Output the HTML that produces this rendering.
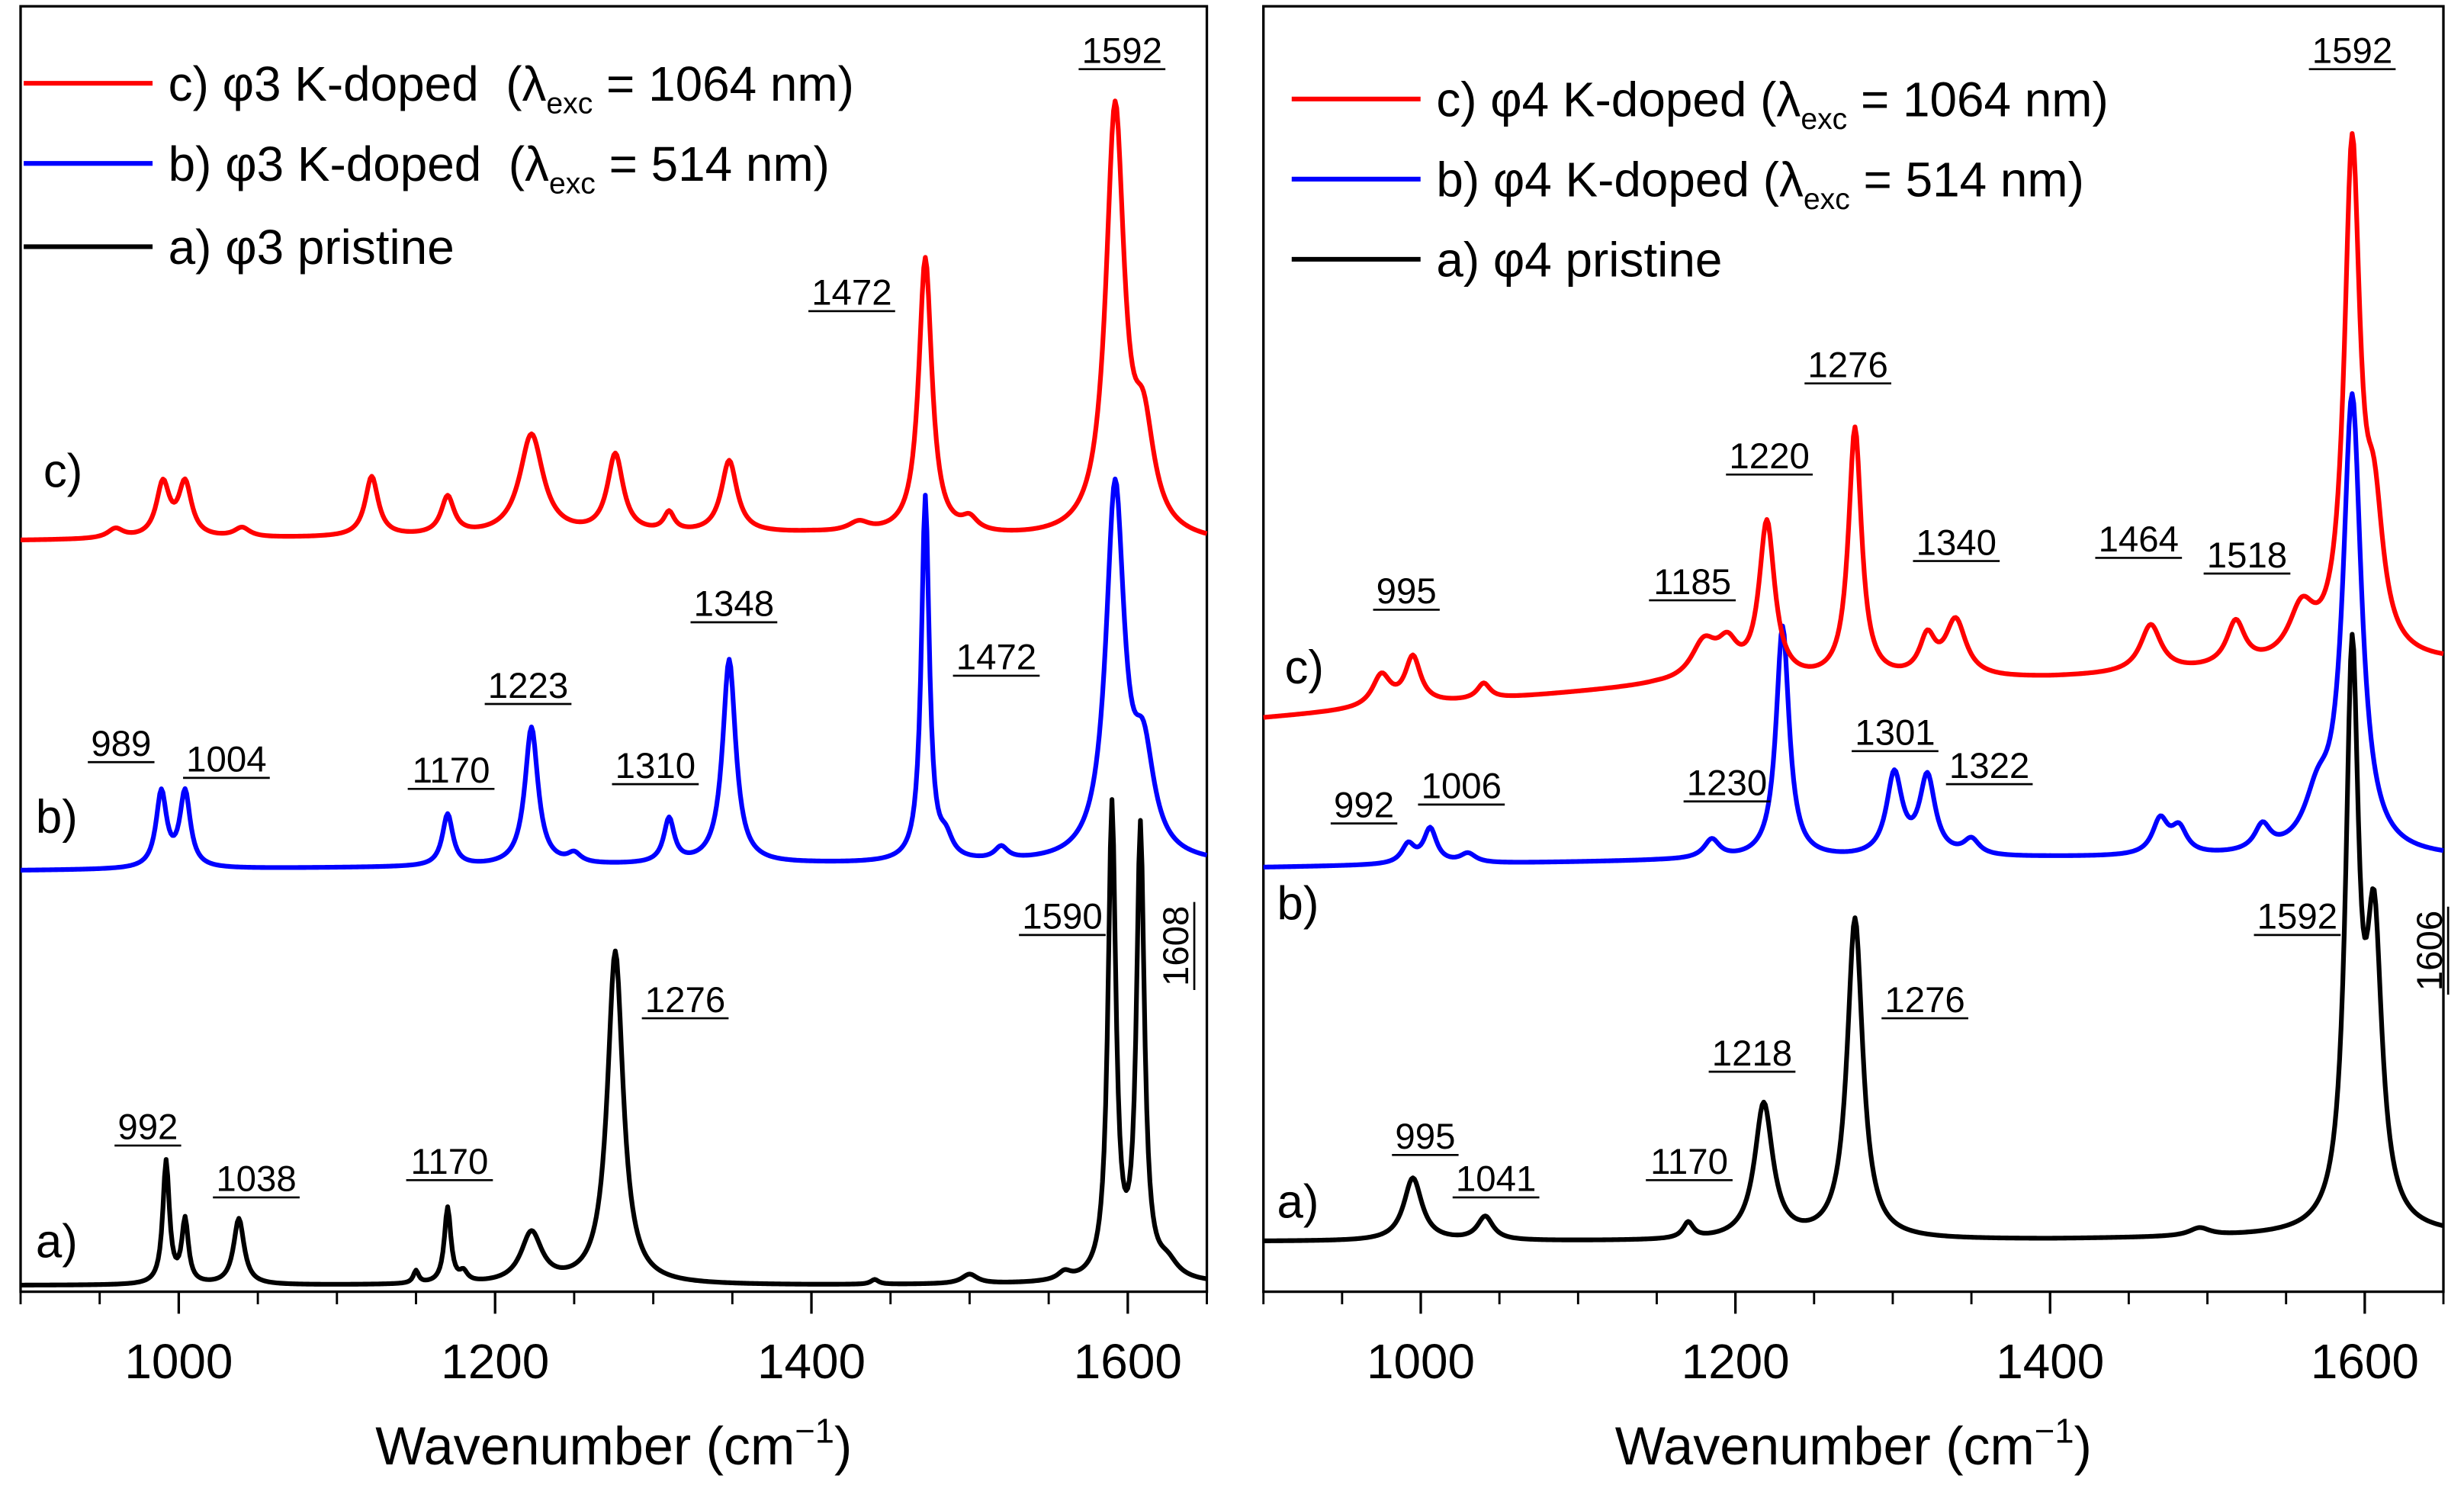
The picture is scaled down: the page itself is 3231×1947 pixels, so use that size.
<!DOCTYPE html>
<html><head><meta charset="utf-8"><style>
html,body{margin:0;padding:0;background:#fff}
svg{display:block}
text{font-family:"Liberation Sans",Arial,sans-serif}
</style></head><body>
<svg id="chart" width="3231" height="1947" viewBox="0 0 1568 945" xmlns="http://www.w3.org/2000/svg">
<g id="p0"></g>
<g id="p1"></g>
</svg>
<script>
// ---------- data ----------
const xTicksMajor = [1000, 1200, 1400, 1600];
const xTicksMinor = [900, 950, 1050, 1100, 1150, 1250, 1300, 1350, 1450, 1500, 1550, 1650];
// Left panel (phi3) peaks: position, height, half-width
const l_a_pos = [992, 1004, 1038, 1150, 1170, 1180, 1223, 1276, 1440, 1500, 1560, 1590, 1608, 1625];
const l_a_h   = [78, 40, 42, 8, 48, 6, 32, 212, 3, 6, 5, 300, 285, 10];
const l_a_w   = [2.5, 2.5, 4, 2, 2.5, 3, 8, 6, 3, 6, 5, 3, 3, 8];
const l_a_base = [4, 4, 4, 5];
const l_b_pos = [989, 1004, 1170, 1223, 1250, 1310, 1348, 1472, 1485, 1520, 1592, 1610];
const l_b_h   = [48, 48, 33, 88, 6, 28, 130, 232, 12, 8, 235, 60];
const l_b_w   = [4, 4, 4, 5, 5, 4, 5, 3, 5, 5, 7, 8];
const l_b_base = [268, 270, 272, 272];
const l_c_pos = [960, 990, 1004, 1040, 1122, 1170, 1223, 1276, 1310, 1348, 1430, 1472, 1500, 1592, 1610];
const l_c_h   = [6, 34, 34, 6, 38, 24, 64, 50, 12, 46, 6, 176, 8, 270, 60];
const l_c_w   = [6, 5, 5, 6, 5, 5, 9, 6, 4, 6, 8, 5, 6, 7, 8];
const l_c_base = [478, 480, 482, 476];
// Right panel (phi4)
const r_a_pos = [995, 1041, 1170, 1218, 1276, 1495, 1592, 1606];
const r_a_h   = [40, 15, 10, 86, 204, 5, 355, 180];
const r_a_w   = [7, 6, 4, 7, 6, 8, 5, 6];
const r_a_base = [32, 32, 33, 36];
const r_b_pos = [992, 1006, 1030, 1185, 1230, 1301, 1322, 1350, 1470, 1482, 1535, 1570, 1592];
const r_b_h   = [12, 22, 6, 12, 148, 52, 50, 10, 22, 16, 16, 30, 290];
const r_b_w   = [5, 5, 6, 6, 5, 6, 6, 6, 6, 6, 6, 10, 7];
const r_b_base = [270, 274, 276, 276];
const r_c_pos = [975, 995, 1040, 1180, 1195, 1220, 1276, 1322, 1340, 1464, 1518, 1560, 1592, 1606];
const r_c_h   = [20, 30, 10, 24, 20, 100, 160, 24, 36, 30, 28, 32, 320, 80];
const r_c_w   = [7, 6, 5, 10, 8, 6, 5, 6, 8, 8, 7, 10, 6, 7];
const r_c_base = [365, 385, 390, 400];

const leftLabels = [
 ["1592",714,32],["1472",542,186],["989",77,473],["1004",144,483],["1170",287,490],["1223",336,436],
 ["1310",417,487],["1348",467,384],["1472",634,418],["1590",676,583],["1276",436,636],["992",94,717],
 ["1038",163,750],["1170",286,739]];
const rightLabels = [
 ["1592",1497,32],["995",895,376],["1185",1077,370],["1220",1126,290],["1276",1176,232],["1340",1245,345],
 ["1464",1361,343],["1518",1430,353],["992",868,512],["1006",930,500],["1230",1099,498],["1301",1206,466],
 ["1322",1266,487],["1592",1462,583],["1218",1115,670],["1276",1225,636],["995",907,723],["1041",952,750],["1170",1075,739]];

// ---------- drawing ----------
const NS = "http://www.w3.org/2000/svg";
function mk(tag, attrs, parent){const e=document.createElementNS(NS,tag);for(const k in attrs)e.setAttribute(k,attrs[k]);parent.appendChild(e);return e;}

function spectrum(pos,h,w,base,w0){
  let y=0;const t=(w0-900)/750;const seg=t*(base.length-1);const i=Math.min(Math.floor(seg),base.length-2);
  y=base[i]+(base[i+1]-base[i])*(seg-i);
  for(let k=0;k<pos.length;k++){const d=(w0-pos[k])/w[k];y+=h[k]/(1+d*d);}
  return y;
}

function panel(g, x0, x1, series, labels, legend, curveLabels, vert){
  const yB=822, yT=4;
  const xs = w => x0 + (w-900)/750*(x1-x0);
  const ys = v => yB - v;
  const frame = mk("rect",{x:x0,y:yT,width:x1-x0,height:yB-yT,fill:"none",stroke:"#000","stroke-width":1.6},g);
  
  
  xTicksMajor.forEach(t=>{
    const l=mk("line",{x1:xs(t),x2:xs(t),y1:yB,y2:yB+14,stroke:"#000","stroke-width":1.6},g);
    
    
    const tx=mk("text",{x:xs(t),y:yB+55,"font-size":31,"text-anchor":"middle"},g);tx.textContent=t;
    
    
  });
  xTicksMinor.forEach(t=>{
    const l=mk("line",{x1:xs(t),x2:xs(t),y1:yB,y2:yB+8,stroke:"#000","stroke-width":1.4},g);
    
    
  });
  const title=mk("text",{x:(x0+x1)/2,y:932,"font-size":34,"text-anchor":"middle"},g);
  title.innerHTML='Wavenumber (cm<tspan dy="-14" font-size="22">−1</tspan><tspan dy="14">)</tspan>';
  
  
  series.forEach(s=>{
    let d="";
    for(let w=900;w<=1650;w+=1){const v=spectrum(s.pos,s.h,s.w,s.base,w);d+=(w===900?"M":"L")+xs(w).toFixed(2)+","+ys(v).toFixed(2);}
    const p=mk("path",{d:d,fill:"none",stroke:s.color,"stroke-width":3,"stroke-linejoin":"round"},g);
    
    
  });
  labels.forEach(L=>{
    const t=mk("text",{x:L[1],y:L[2]+8,"font-size":23,"text-anchor":"middle"},g);
    t.textContent=L[0];
    
    
    const wdt=L[0].length*12.8;
    mk("line",{x1:L[1]-wdt/2-2,x2:L[1]+wdt/2+2,y1:L[2]+12,y2:L[2]+12,stroke:"#000","stroke-width":1.3},g);
  });
  const v=mk("text",{x:0,y:0,"font-size":23,"text-anchor":"middle",transform:`translate(${vert[1]+9},${vert[2]}) rotate(-90)`},g);
  v.textContent=vert[0];
  
  
  mk("line",{x1:vert[1]+13,x2:vert[1]+13,y1:vert[2]-28,y2:vert[2]+28,stroke:"#000","stroke-width":1.3},g);
  legend.forEach(e=>{
    const l=mk("line",{x1:e.lx,x2:e.lx+82,y1:e.y,y2:e.y,stroke:e.color,"stroke-width":3},g);
    
    
    const t=mk("text",{x:e.lx+92,y:e.y+11,"font-size":31},g);
    t.setAttribute("xml:space","preserve");
    t.style.whiteSpace="pre";
    t.innerHTML=e.html;
    
    
  });
  curveLabels.forEach(c=>{
    const t=mk("text",{x:c[1],y:c[2]+10,"font-size":30,"text-anchor":"middle"},g);
    t.textContent=c[0];
    
    
  });
}
const lam=(p,n,wl,sp)=>`${p} φ${n} K-doped${sp}(λ<tspan dy="8" font-size="19">exc</tspan><tspan dy="-8"> = ${wl} nm)</tspan>`;
panel(document.getElementById("p0"),13,768,[
  {pos:l_a_pos,h:l_a_h,w:l_a_w,base:l_a_base,color:"#000",name:"spectrum-a-pristine"},
  {pos:l_b_pos,h:l_b_h,w:l_b_w,base:l_b_base,color:"#0000ff",name:"spectrum-b-514nm"},
  {pos:l_c_pos,h:l_c_h,w:l_c_w,base:l_c_base,color:"#ff0000",name:"spectrum-c-1064nm"}],
  leftLabels,
  [{lx:15,y:53,color:"#ff0000",html:lam("c)",3,1064,"\u00a0\u00a0")},
   {lx:15,y:104,color:"#0000ff",html:lam("b)",3,514,"\u00a0\u00a0")},
   {lx:15,y:157,color:"#000",html:"a) φ3 pristine"}],
  [["c)",40,300],["b)",36,520],["a)",36,790]],["1608",747,602]);
panel(document.getElementById("p1"),804,1555,[
  {pos:r_a_pos,h:r_a_h,w:r_a_w,base:r_a_base,color:"#000",name:"spectrum-a-pristine"},
  {pos:r_b_pos,h:r_b_h,w:r_b_w,base:r_b_base,color:"#0000ff",name:"spectrum-b-514nm"},
  {pos:r_c_pos,h:r_c_h,w:r_c_w,base:r_c_base,color:"#ff0000",name:"spectrum-c-1064nm"}],
  rightLabels,
  [{lx:822,y:63,color:"#ff0000",html:lam("c)",4,1064," ")},
   {lx:822,y:114,color:"#0000ff",html:lam("b)",4,514," ")},
   {lx:822,y:165,color:"#000",html:"a) φ4 pristine"}],
  [["c)",830,425],["b)",826,575],["a)",826,765]],["1606",1545,605]);
</script>
</body></html>
